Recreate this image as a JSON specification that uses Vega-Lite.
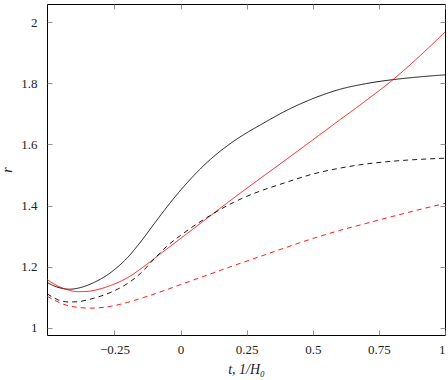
{
  "$schema": "https://vega.github.io/schema/vega-lite/v6.json",
  "autosize": {"type": "none"},
  "width": 398,
  "height": 331,
  "padding": {"left": 47, "top": 4, "right": 3, "bottom": 45},
  "background": "white",
  "config": {
    "view": {"stroke": "#000", "strokeWidth": 1},
    "axis": {
      "labelFont": "Liberation Serif, DejaVu Serif, serif",
      "labelFontSize": 13,
      "labelColor": "#222",
      "titleFont": "Liberation Serif, DejaVu Serif, serif",
      "titleFontSize": 14,
      "titleFontWeight": "normal",
      "titleFontStyle": "italic",
      "titleColor": "#222",
      "domain": false,
      "grid": false,
      "tickColor": "#777",
      "tickWidth": 0.8,
      "tickSize": -5
    }
  },
  "data": {
    "values": [
      {"s": "A", "t": -0.505, "r": 1.148},
      {"s": "A", "t": -0.47, "r": 1.134},
      {"s": "A", "t": -0.42, "r": 1.126},
      {"s": "A", "t": -0.38, "r": 1.131},
      {"s": "A", "t": -0.33, "r": 1.147},
      {"s": "A", "t": -0.28, "r": 1.171},
      {"s": "A", "t": -0.25, "r": 1.19},
      {"s": "A", "t": -0.2, "r": 1.23},
      {"s": "A", "t": -0.15, "r": 1.282},
      {"s": "A", "t": -0.1, "r": 1.34},
      {"s": "A", "t": -0.05, "r": 1.397},
      {"s": "A", "t": 0, "r": 1.45},
      {"s": "A", "t": 0.05, "r": 1.498},
      {"s": "A", "t": 0.1, "r": 1.541},
      {"s": "A", "t": 0.15, "r": 1.578},
      {"s": "A", "t": 0.2, "r": 1.61},
      {"s": "A", "t": 0.25, "r": 1.638},
      {"s": "A", "t": 0.3, "r": 1.663},
      {"s": "A", "t": 0.4, "r": 1.711},
      {"s": "A", "t": 0.5, "r": 1.75},
      {"s": "A", "t": 0.6, "r": 1.78},
      {"s": "A", "t": 0.7, "r": 1.799},
      {"s": "A", "t": 0.8, "r": 1.812},
      {"s": "A", "t": 0.9, "r": 1.821},
      {"s": "A", "t": 1.0, "r": 1.828},

      {"s": "B", "t": -0.505, "r": 1.158},
      {"s": "B", "t": -0.47, "r": 1.139},
      {"s": "B", "t": -0.43, "r": 1.125},
      {"s": "B", "t": -0.39, "r": 1.118},
      {"s": "B", "t": -0.35, "r": 1.119},
      {"s": "B", "t": -0.3, "r": 1.128},
      {"s": "B", "t": -0.25, "r": 1.143},
      {"s": "B", "t": -0.2, "r": 1.164},
      {"s": "B", "t": -0.15, "r": 1.193},
      {"s": "B", "t": -0.1, "r": 1.226},
      {"s": "B", "t": -0.05, "r": 1.259},
      {"s": "B", "t": 0, "r": 1.292},
      {"s": "B", "t": 0.1, "r": 1.358},
      {"s": "B", "t": 0.2, "r": 1.424},
      {"s": "B", "t": 0.3, "r": 1.488},
      {"s": "B", "t": 0.4, "r": 1.551},
      {"s": "B", "t": 0.5, "r": 1.615},
      {"s": "B", "t": 0.6, "r": 1.679},
      {"s": "B", "t": 0.7, "r": 1.743},
      {"s": "B", "t": 0.8, "r": 1.81},
      {"s": "B", "t": 0.9, "r": 1.886},
      {"s": "B", "t": 1.0, "r": 1.968},

      {"s": "C", "t": -0.505, "r": 1.111},
      {"s": "C", "t": -0.46, "r": 1.09},
      {"s": "C", "t": -0.42, "r": 1.084},
      {"s": "C", "t": -0.38, "r": 1.086},
      {"s": "C", "t": -0.33, "r": 1.096},
      {"s": "C", "t": -0.28, "r": 1.11},
      {"s": "C", "t": -0.25, "r": 1.121},
      {"s": "C", "t": -0.2, "r": 1.145},
      {"s": "C", "t": -0.15, "r": 1.179},
      {"s": "C", "t": -0.1, "r": 1.225},
      {"s": "C", "t": -0.05, "r": 1.268},
      {"s": "C", "t": 0, "r": 1.302},
      {"s": "C", "t": 0.05, "r": 1.333},
      {"s": "C", "t": 0.1, "r": 1.361},
      {"s": "C", "t": 0.15, "r": 1.387},
      {"s": "C", "t": 0.2, "r": 1.41},
      {"s": "C", "t": 0.25, "r": 1.43},
      {"s": "C", "t": 0.3, "r": 1.447},
      {"s": "C", "t": 0.4, "r": 1.476},
      {"s": "C", "t": 0.5, "r": 1.503},
      {"s": "C", "t": 0.6, "r": 1.522},
      {"s": "C", "t": 0.7, "r": 1.536},
      {"s": "C", "t": 0.8, "r": 1.545},
      {"s": "C", "t": 0.9, "r": 1.551},
      {"s": "C", "t": 1.0, "r": 1.555},

      {"s": "D", "t": -0.505, "r": 1.103},
      {"s": "D", "t": -0.46, "r": 1.083},
      {"s": "D", "t": -0.416, "r": 1.07},
      {"s": "D", "t": -0.34, "r": 1.064},
      {"s": "D", "t": -0.264, "r": 1.07},
      {"s": "D", "t": -0.2, "r": 1.083},
      {"s": "D", "t": -0.139, "r": 1.099},
      {"s": "D", "t": -0.07, "r": 1.119},
      {"s": "D", "t": 0, "r": 1.141},
      {"s": "D", "t": 0.1, "r": 1.172},
      {"s": "D", "t": 0.2, "r": 1.203},
      {"s": "D", "t": 0.3, "r": 1.233},
      {"s": "D", "t": 0.4, "r": 1.263},
      {"s": "D", "t": 0.5, "r": 1.292},
      {"s": "D", "t": 0.6, "r": 1.318},
      {"s": "D", "t": 0.7, "r": 1.341},
      {"s": "D", "t": 0.8, "r": 1.364},
      {"s": "D", "t": 0.9, "r": 1.386},
      {"s": "D", "t": 1.0, "r": 1.407}
    ]
  },
  "layer": [
    {
      "mark": {"type": "line", "interpolate": "monotone", "strokeWidth": 0.9, "clip": true},
      "encoding": {
        "x": {
          "field": "t", "type": "quantitative",
          "scale": {"domain": [-0.505, 1.0], "nice": false, "zero": false},
          "axis": {"orient": "bottom", "values": [-0.25, 0, 0.25, 0.5, 0.75, 1], "format": ".2~f", "labelPadding": 13, "title": "t, 1/H₀", "titlePadding": 6}
        },
        "y": {
          "field": "r", "type": "quantitative",
          "scale": {"domain": [0.976, 2.06], "nice": false, "zero": false},
          "axis": {"orient": "left", "values": [1, 1.2, 1.4, 1.6, 1.8, 2], "format": ".1~f", "labelPadding": 15, "title": "r", "titlePadding": 6}
        },
        "detail": {"field": "s"},
        "color": {"field": "s", "type": "nominal", "scale": {"domain": ["A", "B", "C", "D"], "range": ["#000000", "#ff0000", "#000000", "#ff0000"]}, "legend": null},
        "strokeDash": {"field": "s", "type": "nominal", "scale": {"domain": ["A", "B", "C", "D"], "range": [[1, 0], [1, 0], [5, 4], [5, 4]]}, "legend": null}
      }
    },
    {
      "mark": {"type": "line", "strokeOpacity": 0},
      "encoding": {
        "x": {"field": "t", "type": "quantitative", "axis": {"orient": "top", "values": [-0.25, 0, 0.25, 0.5, 0.75, 1], "labels": false, "title": null}},
        "y": {"field": "r", "type": "quantitative", "axis": {"orient": "right", "values": [1, 1.2, 1.4, 1.6, 1.8, 2], "labels": false, "title": null}},
        "detail": {"field": "s"}
      }
    }
  ],
  "resolve": {"axis": {"x": "independent", "y": "independent"}}
}
